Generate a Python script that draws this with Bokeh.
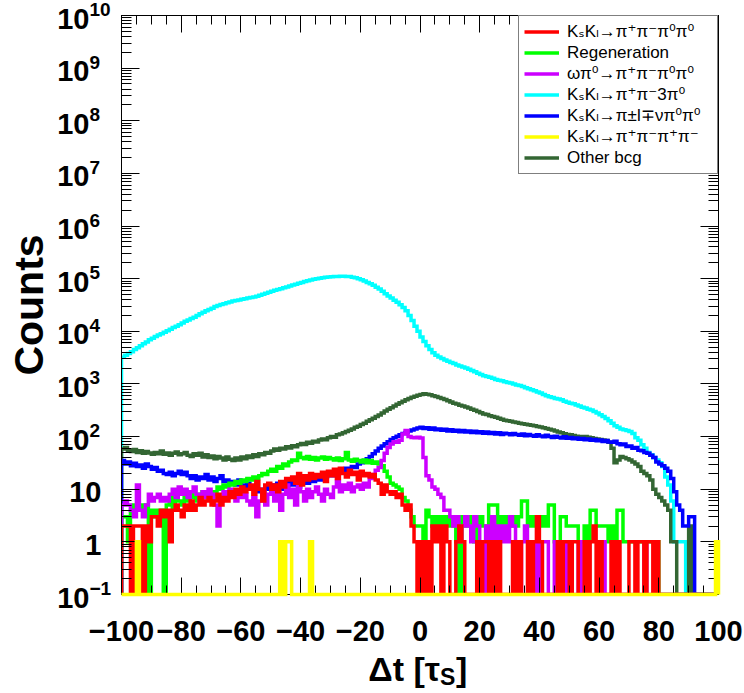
import numpy as np
from bokeh.plotting import figure
from bokeh.models import (FixedTicker, LogAxis, LinearAxis, Legend,
                          LegendItem, Range1d, CustomJSTickFormatter)
from bokeh.core.properties import value
from bokeh.embed import file_html
from bokeh.resources import INLINE

# Histogram binning: 200 bins of width 1 over [-100, 100] (units of tau_S)
X_MIN, X_MAX, N_BINS = -100, 100, 200
Y_MIN, Y_MAX = 0.1, 1e10

# Bin contents, 10 bins per row, first row starts at dt = -100
pipi3pi0 = [
    3200, 3500, 3800, 4100, 4500, 4900, 5300, 5800, 6300, 6900,
    7400, 8000, 8500, 9000, 9600, 10200, 10900, 11800, 12500, 13300,
    14400, 15500, 16400, 17500, 18600, 20000, 21500, 23000, 24500, 26000,
    27500, 29500, 31000, 32300, 33500, 35000, 36000, 37500, 38500, 39500,
    40500, 41500, 43000, 44000, 45000, 46500, 48500, 50500, 53000, 55500,
    57500, 60000, 62000, 64500, 67000, 69500, 72500, 75500, 78500, 82000,
    85000, 88000, 91000, 94500, 97500, 100000, 102000, 104000, 106000, 107500,
    108500, 109500, 110500, 111000, 111000, 110500, 109500, 107000, 104000, 100000,
    95000, 90000, 85000, 80000, 75000, 69000, 64000, 58000, 52000, 47000,
    43000, 39000, 35500, 32000, 28500, 24500, 20000, 16000, 12500, 10000,
    7800, 6400, 5300, 4500, 3900, 3500, 3250, 3050, 2850, 2700,
    2550, 2450, 2300, 2200, 2100, 2000, 1900, 1800, 1700, 1600,
    1520, 1430, 1380, 1340, 1280, 1220, 1180, 1150, 1100, 1060,
    1040, 1000, 960, 930, 890, 850, 810, 780, 740, 700,
    670, 630, 600, 570, 550, 530, 520, 500, 470, 450,
    430, 420, 400, 380, 360, 350, 330, 320, 300, 280,
    260, 240, 220, 200, 180, 160, 150, 140, 135, 130,
    125, 115, 95, 85, 70, 60, 50, 45, 40, 36,
    32, 27, 17, 12, 6, 1, 1, 1, 1, 0,
    0, 0, 0, 0, 0, 0, 0, 0, 0, 0,
]

other_bcg = [
    58, 62, 55, 52, 57, 50, 54, 48, 52, 49,
    46, 50, 47, 53, 46, 49, 44, 48, 51, 45,
    47, 50, 44, 42, 47, 44, 48, 41, 45, 40,
    43, 38, 42, 39, 36, 41, 37, 35, 39, 36,
    41, 38, 43, 40, 45, 42, 47, 45, 50, 48,
    53, 58, 55, 60, 58, 64, 61, 67, 64, 70,
    74, 71, 78, 75, 82, 79, 86, 90, 87, 95,
    100, 97, 108, 112, 118, 125, 132, 140, 150, 158,
    170, 180, 195, 208, 222, 240, 258, 280, 305, 330,
    355, 380, 410, 440, 470, 500, 530, 560, 585, 610,
    630, 650, 640, 625, 600, 580, 555, 530, 505, 480,
    455, 430, 415, 395, 380, 365, 350, 330, 315, 300,
    285, 270, 262, 250, 240, 232, 222, 214, 205, 200,
    195, 190, 185, 180, 176, 172, 168, 164, 160, 155,
    152, 148, 142, 138, 133, 128, 122, 118, 113, 110,
    108, 105, 102, 100, 98, 100, 97, 95, 92, 90,
    88, 86, 84, 78, 60, 32, 36, 42, 40, 38,
    36, 33, 30, 27, 22, 20, 18, 15, 10, 8,
    7, 6, 5, 4, 1, 1, 0, 0, 0, 0,
    2, 0, 0, 0, 0, 0, 0, 0, 0, 0,
]

semileptonic = [
    35, 30, 33, 28, 31, 27, 29, 25, 30, 27,
    24, 26, 22, 23, 20, 19, 21, 18, 20, 22,
    19, 21, 18, 16, 18, 15, 17, 16, 19, 15,
    17, 14, 16, 18, 14, 15, 13, 14, 12, 15,
    12, 11, 13, 10, 11, 9, 10, 9, 11, 10,
    12, 11, 13, 10, 12, 11, 14, 12, 13, 11,
    13, 15, 13, 16, 14, 17, 15, 18, 17, 19,
    18, 21, 20, 23, 22, 25, 24, 27, 26, 30,
    32, 35, 38, 42, 47, 53, 60, 66, 73, 80,
    88, 95, 102, 108, 115, 120, 128, 133, 140, 145,
    150, 142, 148, 138, 145, 135, 140, 132, 138, 128,
    135, 126, 132, 124, 130, 122, 128, 120, 126, 118,
    124, 116, 122, 114, 120, 112, 118, 110, 116, 113,
    108, 115, 110, 106, 112, 104, 110, 105, 101, 108,
    103, 99, 106, 100, 96, 102, 97, 94, 99, 93,
    96, 91, 94, 89, 92, 87, 90, 85, 88, 83,
    86, 81, 84, 79, 78, 82, 73, 70, 72, 65,
    66, 60, 62, 55, 54, 50, 48, 44, 40, 33,
    30, 28, 25, 22, 16, 9, 5, 4, 2, 2,
    3, 3, 0, 0, 0, 0, 0, 0, 0, 0,
]

omega_pi0 = [
    5, 6, 5, 4, 3, 12, 4, 3, 5, 8,
    6, 7, 8, 6, 7, 6, 8, 10, 7, 11,
    8, 10, 7, 9, 11, 8, 6, 9, 7, 10,
    8, 5, 2, 6, 9, 7, 10, 8, 6, 9,
    7, 8, 6, 5, 7, 3, 6, 9, 5, 8,
    11, 6, 9, 4, 8, 12, 7, 10, 5, 13,
    9, 6, 10, 7, 9, 11, 8, 6, 10, 8,
    7, 11, 14, 9, 12, 10, 13, 9, 11, 12,
    10, 13, 11, 16, 19, 23, 26, 35, 48, 62,
    72, 80, 78, 85, 112, 130, 100, 96, 95, 97,
    94, 40, 18, 15, 11, 10, 8, 7, 4, 4,
    3, 2, 3, 1, 2, 3, 2, 1, 3, 2,
    1, 0, 2, 1, 3, 1, 2, 1, 2, 1,
    3, 2, 1, 0, 1, 2, 1, 1, 0, 1,
    0, 1, 1, 0, 0, 1, 0, 1, 0, 1,
    0, 0, 0, 1, 0, 0, 0, 0, 0, 0,
    0, 1, 0, 0, 0, 0, 0, 0, 0, 0,
    0, 0, 0, 0, 0, 1, 0, 0, 0, 0,
    0, 0, 0, 0, 0, 0, 0, 0, 0, 0,
    0, 0, 0, 0, 0, 0, 0, 0, 0, 0,
]

regeneration = [
    3, 3, 1, 4, 5, 4, 5, 4, 5, 0,
    4, 3, 4, 4, 0, 5, 7, 4, 8, 6,
    5, 7, 6, 8, 7, 6, 8, 9, 7, 8,
    9, 8, 11, 10, 12, 11, 13, 12, 14, 13,
    15, 14, 16, 15, 17, 16, 18, 20, 19, 22,
    24, 22, 27, 25, 30, 28, 33, 36, 35, 48,
    40, 38, 42, 37, 40, 36, 39, 41, 37, 40,
    38, 36, 39, 35, 38, 50, 36, 34, 37, 35,
    33, 36, 32, 35, 31, 33, 30, 28, 22, 17,
    13, 12, 11, 10, 7, 6, 4, 3, 2, 2,
    2, 1, 4, 3, 2, 3, 2, 3, 2, 3,
    2, 3, 1, 0, 3, 2, 3, 2, 1, 2,
    3, 2, 1, 5, 5, 5, 2, 3, 2, 3,
    2, 3, 2, 3, 6, 6, 2, 3, 2, 3,
    2, 3, 2, 5, 5, 1, 0, 3, 3, 2,
    2, 2, 2, 1, 1, 2, 1, 4, 4, 2,
    2, 2, 2, 1, 2, 1, 4, 4, 1, 1,
    1, 1, 1, 1, 1, 1, 1, 1, 1, 1,
    0, 0, 0, 0, 0, 0, 0, 0, 0, 0,
    0, 0, 0, 0, 0, 0, 0, 0, 0, 0,
]

signal = [
    2, 2, 2, 0, 2, 2, 2, 0, 2, 1,
    3, 3, 2, 4, 3, 4, 1, 4, 5, 4,
    3, 5, 4, 6, 4, 5, 7, 5, 6, 7,
    5, 6, 8, 5, 7, 6, 9, 7, 10, 8,
    11, 9, 10, 12, 8, 14, 10, 6, 12, 13,
    10, 12, 9, 14, 11, 16, 15, 17, 13, 20,
    12, 18, 15, 20, 16, 19, 17, 21, 14, 22,
    18, 24, 16, 25, 20, 17, 23, 19, 21, 15,
    22, 18, 20, 17, 19, 15, 13, 8, 12, 9,
    8, 9, 7, 8, 5, 4, 5, 2, 1, 0,
    1, 0, 1, 0, 2, 1, 2, 0, 2, 1,
    0, 0, 1, 2, 1, 0, 0, 0, 0, 1,
    0, 1, 1, 0, 1, 0, 1, 0, 0, 0,
    0, 1, 0, 1, 0, 0, 1, 0, 1, 3,
    1, 0, 0, 0, 0, 0, 1, 0, 1, 1,
    0, 1, 1, 0, 0, 1, 0, 1, 2, 0,
    1, 0, 0, 0, 1, 0, 1, 0, 0, 0,
    1, 1, 0, 1, 1, 0, 1, 1, 0, 1,
    0, 0, 0, 0, 0, 0, 0, 0, 0, 0,
    0, 0, 0, 0, 0, 0, 0, 0, 0, 0,
]

four_charged = [
    0, 0, 0, 0, 0, 1, 0, 0, 0, 0,
    0, 0, 0, 0, 0, 0, 0, 0, 0, 0,
    0, 0, 0, 0, 0, 0, 0, 0, 0, 0,
    0, 0, 0, 0, 0, 0, 0, 0, 0, 0,
    0, 0, 0, 0, 0, 0, 0, 0, 0, 0,
    0, 0, 0, 1, 0, 1, 1, 0, 0, 0,
    0, 0, 0, 1, 0, 0, 0, 0, 0, 0,
    0, 0, 0, 0, 0, 0, 0, 0, 0, 0,
    0, 0, 0, 0, 0, 0, 0, 0, 0, 0,
    0, 0, 0, 0, 0, 0, 0, 0, 0, 0,
    0, 0, 0, 0, 0, 0, 0, 0, 0, 0,
    0, 0, 0, 0, 0, 0, 0, 0, 0, 0,
    0, 0, 0, 0, 0, 0, 0, 0, 0, 0,
    0, 0, 0, 0, 0, 0, 0, 0, 0, 0,
    0, 0, 0, 0, 0, 0, 0, 0, 0, 0,
    0, 0, 0, 0, 0, 0, 0, 0, 0, 0,
    0, 0, 0, 0, 0, 0, 0, 0, 0, 0,
    0, 0, 0, 0, 0, 0, 0, 0, 0, 0,
    0, 0, 0, 0, 0, 0, 0, 0, 0, 0,
    0, 0, 0, 0, 0, 0, 0, 0, 0, 1,
]

legend_labels = [
    "K\u209bK\u2097\u2192\u03c0\u207a\u03c0\u207b\u03c0\u2070\u03c0\u2070",
    "Regeneration",
    "\u03c9\u03c0\u2070\u2192\u03c0\u207a\u03c0\u207b\u03c0\u2070\u03c0\u2070",
    "K\u209bK\u2097\u2192\u03c0\u207a\u03c0\u207b3\u03c0\u2070",
    "K\u209bK\u2097\u2192\u03c0\u00b1l\u2213\u03bd\u03c0\u2070\u03c0\u2070",
    "K\u209bK\u2097\u2192\u03c0\u207a\u03c0\u207b\u03c0\u207a\u03c0\u207b",
    "Other bcg",
]
x_ticks = list(range(-100, 101, 20))
x_tick_labels = ["\u2212100", "\u221280", "\u221260", "\u221240", "\u221220",
                 "0", "20", "40", "60", "80", "100"]
y_decades = list(range(-1, 11))

FONT = "Liberation Sans"
LEGEND_FONT = "Liberation Sans, DejaVu Sans"

edges = np.linspace(X_MIN, X_MAX, N_BINS + 1)


def outline(counts):
    """Closed step outline of a histogram; empty bins sit on the axis floor."""
    c = np.asarray(counts, dtype=float)
    assert c.size == N_BINS
    c = np.where(c > 0, c, Y_MIN)
    xs = np.repeat(edges, 2)
    ys = np.concatenate([[Y_MIN], np.repeat(c, 2), [Y_MIN]])
    return xs, ys


p = figure(width=744, height=693,
           x_range=Range1d(X_MIN, X_MAX), y_range=Range1d(Y_MIN, Y_MAX),
           y_axis_type="log", output_backend="svg", toolbar_location=None,
           min_border_left=121, min_border_right=26,
           min_border_top=15, min_border_bottom=99)
p.xgrid.visible = False
p.ygrid.visible = False
p.outline_line_color = "black"
p.outline_line_width = 1
p.background_fill_color = "white"
p.border_fill_color = "white"

x_ticker = FixedTicker(ticks=x_ticks,
                       minor_ticks=[v for v in range(-100, 101, 5) if v % 20])
y_ticker = FixedTicker(ticks=[10.0 ** k for k in y_decades],
                       minor_ticks=[m * 10.0 ** k for k in y_decades[:-1]
                                    for m in range(2, 10)])
blank = CustomJSTickFormatter(code="return ' ';")


def style_axis(ax, major_len, minor_len):
    ax.axis_line_color = "black"
    ax.axis_line_width = 1
    ax.major_tick_line_color = "black"
    ax.minor_tick_line_color = "black"
    ax.major_tick_in = major_len
    ax.major_tick_out = 0
    ax.minor_tick_in = minor_len
    ax.minor_tick_out = 0


def hide_labels(ax):
    ax.formatter = blank
    ax.major_label_text_font_size = "2px"
    ax.major_label_standoff = 0


xaxis = p.xaxis[0]
xaxis.ticker = x_ticker
xaxis.major_label_overrides = dict(zip(x_ticks, x_tick_labels))
xaxis.major_label_text_font = FONT
xaxis.major_label_text_font_style = "bold"
xaxis.major_label_text_font_size = "29px"
xaxis.major_label_text_color = "black"
xaxis.major_label_standoff = 26
style_axis(xaxis, 17, 9)

yaxis = p.yaxis[0]
yaxis.ticker = y_ticker
hide_labels(yaxis)
style_axis(yaxis, 18, 10)

right_axis = LogAxis(ticker=y_ticker)
hide_labels(right_axis)
style_axis(right_axis, 18, 10)
p.add_layout(right_axis, "right")

top_axis = LinearAxis(ticker=x_ticker)
hide_labels(top_axis)
style_axis(top_axis, 17, 9)
p.add_layout(top_axis, "above")


def overlay_text(xs, ys, texts, size, align, baseline, dx, dy, angle=0.0):
    """Bold text drawn above the frame clip so it can sit in the margins."""
    r = p.text(x=xs, y=ys, text=texts, angle=angle,
               x_offset=dx, y_offset=dy,
               text_font=value(FONT), text_font_style="bold",
               text_font_size=value(size), text_color="black",
               text_align=align, text_baseline=baseline)
    r.level = "overlay"
    return r


# Decade labels on the log axis: "10" with a raised exponent
plain = [k for k in y_decades if k in (0, 1)]
powers = [k for k in y_decades if k not in (0, 1)]
overlay_text([X_MIN] * len(plain), [10.0 ** k for k in plain],
             [str(10 ** k) for k in plain], "29px", "right", "middle", -20, 3)
overlay_text([X_MIN] * len(powers), [10.0 ** k for k in powers],
             ["10"] * len(powers), "29px", "right", "middle", -32, 3)
overlay_text([X_MIN] * len(powers), [10.0 ** k for k in powers],
             [str(k).replace("-", "\u2212") for k in powers],
             "19px", "left", "middle", -32, -6)

# Axis titles
overlay_text([X_MIN], [10 ** 4.5], ["Counts"], "41px", "center", "middle",
             -93, 0, angle=np.pi / 2)
overlay_text([0], [Y_MIN], ["\u0394t [\u03c4"], "34px", "right", "alphabetic", 20, 74)
overlay_text([0], [Y_MIN], ["S"], "23px", "left", "alphabetic", 20, 82)
overlay_text([0], [Y_MIN], ["]"], "34px", "left", "alphabetic", 36, 74)

# Histograms, drawn back to front
series = {
    "pipi3pi0": (pipi3pi0, "#00FFFF"),
    "other": (other_bcg, "#336633"),
    "semilep": (semileptonic, "#0000FF"),
    "regen": (regeneration, "#00FF00"),
    "omega": (omega_pi0, "#CC00FF"),
    "signal": (signal, "#FF0000"),
    "fourch": (four_charged, "#FFFF00"),
}
renderers = {}
for key, (counts, color) in series.items():
    xs, ys = outline(counts)
    renderers[key] = p.line(xs, ys, line_color=color, line_width=3.5,
                            line_join="miter")
# the mostly-empty histogram runs along the axis floor; keep it unclipped
renderers["fourch"].level = "overlay"

legend_order = ["signal", "regen", "omega", "pipi3pi0", "semilep", "fourch", "other"]
legend = Legend(
    items=[LegendItem(label=lbl, renderers=[renderers[k]])
           for lbl, k in zip(legend_labels, legend_order)],
    location="top_right", orientation="vertical",
    label_text_font=LEGEND_FONT, label_text_font_size="17px",
    label_text_color="black", label_text_line_height=1.0,
    glyph_width=35, glyph_height=21, label_height=21, label_width=145,
    label_standoff=8, spacing=0, padding=5, margin=0,
    border_line_color="black", border_line_width=1,
    background_fill_color="white", background_fill_alpha=1.0,
)
p.add_layout(legend)

open("out.html", "w").write(file_html(p, INLINE))
